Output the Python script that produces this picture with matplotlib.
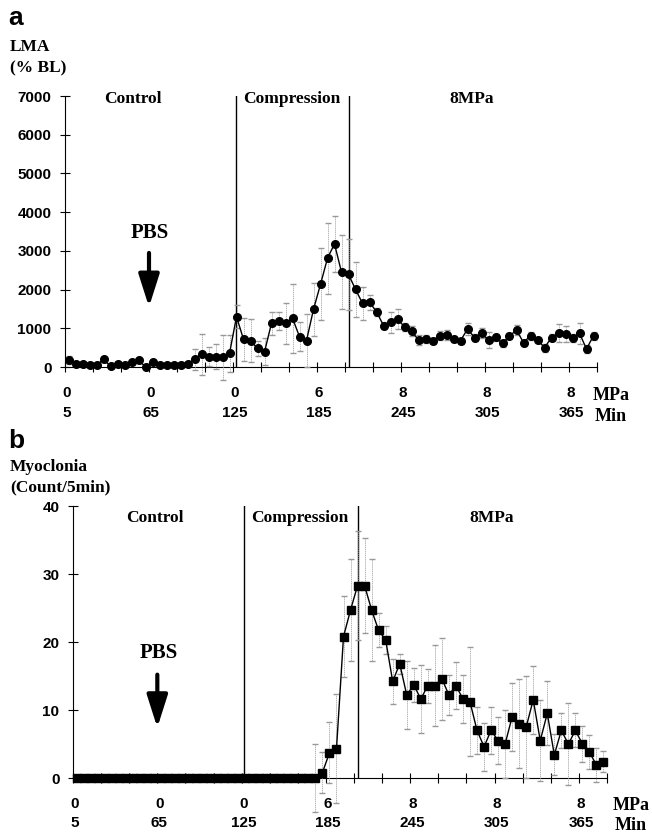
import matplotlib
matplotlib.use('Agg')
import matplotlib.pyplot as plt
import numpy as np

# one point every 5 min (bin centres)
minutes = np.arange(7.5, 385, 5)

# panel a: locomotor activity, % of baseline
lma = [180, 70, 80, 60, 45, 200, 15, 80, 60, 120, 180, 0, 130, 60, 40, 40, 40, 70, 200, 335,
       265, 265, 250, 350, 1300,
       715, 680, 480, 390, 1130, 1190, 1130, 1260, 785, 680, 1490, 2135, 2810, 3180, 2450,
       2395, 2005, 1645, 1670, 1430, 1070, 1155, 1230, 1040,
       920, 705, 720, 670, 810, 830, 715, 680, 980, 760, 870, 700, 765, 610, 800, 955, 630,
       810, 700, 500, 760, 870, 850, 750, 870, 465, 810]
lma_err = [100, 30, 30, 30, 30, 60, 20, 30, 30, 40, 60, 20, 40, 40, 30, 30, 30, 50, 270, 530,
           250, 320, 580, 480, 300,
           550, 550, 200, 350, 300, 240, 530, 890, 380, 690, 690, 930, 920, 730, 960,
           915, 715, 430, 200, 100, 100, 270, 260, 100,
           130, 130, 100, 80, 120, 120, 80, 80, 150, 100, 130, 200, 100, 100, 80, 130, 80,
           100, 80, 100, 100, 230, 200, 100, 270, 100, 100]

# panel b: myoclonia count per 5 min
myo = [0] * 35 + [0.8, 3.7, 4.3, 20.8, 24.7, 28.3, 28.3, 24.7, 21.7, 20.3,
                  14.2, 16.8, 12.2, 13.7, 11.6, 13.6, 13.6, 14.6, 12.2, 13.6,
                  11.6, 11.2, 7.0, 4.6, 7.0, 5.5, 5.0, 9.0, 8.0, 7.5,
                  11.5, 5.5, 9.5, 3.4, 7.0, 5.0, 7.0, 5.0, 3.8, 1.9, 2.4]
myo_err = [0] * 34 + [5, 3, 4.5, 8, 6, 7.5, 8, 7, 7.5, 2.5, 2,
                      3.3, 1.5, 5, 2.5, 5, 2.5, 6, 6, 3, 3.5,
                      3.5, 8, 3.5, 3.5, 3.5, 3.5, 5, 5, 6.5, 7.5,
                      5, 6, 4.7, 3, 2.6, 6, 2.5, 2.7, 2.5, 2.5, 1.5]

tick_min = [5, 65, 125, 185, 245, 305, 365]
tick_mpa = ['0', '0', '0', '6', '8', '8', '8']
phase_lines = [127, 208]

SERIF = 'Liberation Serif'
SANS = 'Liberation Sans'

fig = plt.figure(figsize=(6.52, 8.35), dpi=100)


def px_axes(l, r, b, t):
    W, H = 652, 835
    return fig.add_axes([l / W, 1 - b / H, (r - l) / W, (b - t) / H])


def draw_panel(ax, y, err, marker, ms, ymax, ystep, txt_y, ctrl_x, comp_x, mpa_x, pbs, arrow,
               unit_dx, row_dy):
    eb = ax.errorbar(minutes, y, yerr=err, fmt='-', color='k', lw=1.0, marker=marker, ms=ms,
                     mfc='k', mec='k', ecolor='0.6', elinewidth=0.5, capsize=2, capthick=1,
                     clip_on=False, zorder=3)
    for c in eb[1]:
        c.set_color('0.15')
        c.set_clip_on(False)
    for l in eb[2]:
        l.set_clip_on(False)
        l.set_linestyle((0, (2, 1)))
    for x in phase_lines:
        ax.axvline(x, color='k', lw=1.0)
    ax.set_xlim(5, 385)
    ax.set_ylim(0, ymax)
    ax.spines['top'].set_visible(False)
    ax.spines['right'].set_visible(False)
    ax.spines['left'].set_linewidth(0.8)
    ax.spines['bottom'].set_linewidth(0.8)
    ax.set_yticks(np.arange(0, ymax + 1, ystep))
    ax.tick_params(direction='inout', length=7.5, width=0.8, pad=6)
    for lab in ax.get_yticklabels():
        lab.set_fontfamily(SANS)
        lab.set_fontweight('bold')
        lab.set_fontsize(11)
    ax.set_xticks(np.arange(5, 386, 20))
    ax.set_xticklabels([])
    for m, p in zip(tick_min, tick_mpa):
        ax.annotate(p, xy=(m, 0), xycoords=('data', 'axes fraction'), xytext=(2, -row_dy[0]),
                    textcoords='offset pixels', ha='center', va='center',
                    family=SANS, weight='bold', fontsize=11)
        ax.annotate(str(m), xy=(m, 0), xycoords=('data', 'axes fraction'),
                    xytext=(2, -row_dy[1]), textcoords='offset pixels', ha='center',
                    va='center', family=SANS, weight='bold', fontsize=11)
    ax.annotate('MPa', xy=(1, 0), xycoords='axes fraction', xytext=(unit_dx, -row_dy[0] - 2),
                textcoords='offset pixels', ha='left', va='center',
                family=SERIF, weight='bold', fontsize=13)
    ax.annotate('Min', xy=(1, 0), xycoords='axes fraction',
                xytext=(unit_dx + 2, -row_dy[1] - 3), textcoords='offset pixels',
                ha='left', va='center', family=SERIF, weight='bold', fontsize=13)
    kw = dict(family=SERIF, weight='bold', fontsize=12.5, va='center')
    ax.text(ctrl_x, txt_y, 'Control', ha='center', **kw)
    ax.text(comp_x, txt_y, 'Compression', ha='left', **kw)
    ax.text(mpa_x, txt_y, '8MPa', ha='center', **kw)
    ax.text(pbs[0], pbs[1], 'PBS', ha='center', va='center', family=SERIF, weight='bold',
            fontsize=15)
    ax.annotate('', xy=(65, arrow[1]), xytext=(65, arrow[0]),
                arrowprops=dict(arrowstyle='-|>,head_width=0.35,head_length=1.1', lw=3,
                                color='k', mutation_scale=18, shrinkA=0, shrinkB=0))


ax_a = px_axes(65, 597, 367, 96)
draw_panel(ax_a, lma, lma_err, 'o', 5.5, 7000, 1000, 6925, 53.6, 132, 295.5,
           (65.7, 3460), (2946, 1550), -4, (26, 46))

ax_b = px_axes(73, 607, 778, 506)
draw_panel(ax_b, myo, myo_err, 's', 5.3, 40, 10, 38.2, 63.4, 131.5, 303,
           (66, 18.4), (15.2, 7.4), 6, (26, 45))

# panel letters and y titles
W, H = 652, 835
fig.text(8 / W, 1 - 18 / H, 'a', family=SANS, weight='bold', fontsize=19, va='center')
fig.text(8 / W, 1 - 441 / H, 'b', family=SANS, weight='bold', fontsize=19, va='center')
ykw = dict(family=SERIF, weight='bold', fontsize=12.5, va='center', ha='left')
fig.text(10 / W, 1 - 47 / H, 'LMA', **ykw)
fig.text(10 / W, 1 - 68 / H, '(% BL)', **ykw)
fig.text(10 / W, 1 - 467 / H, 'Myoclonia', **ykw)
fig.text(10 / W, 1 - 487 / H, '(Count/5min)', **ykw)

fig.savefig('out.png', dpi=100, facecolor='white')
